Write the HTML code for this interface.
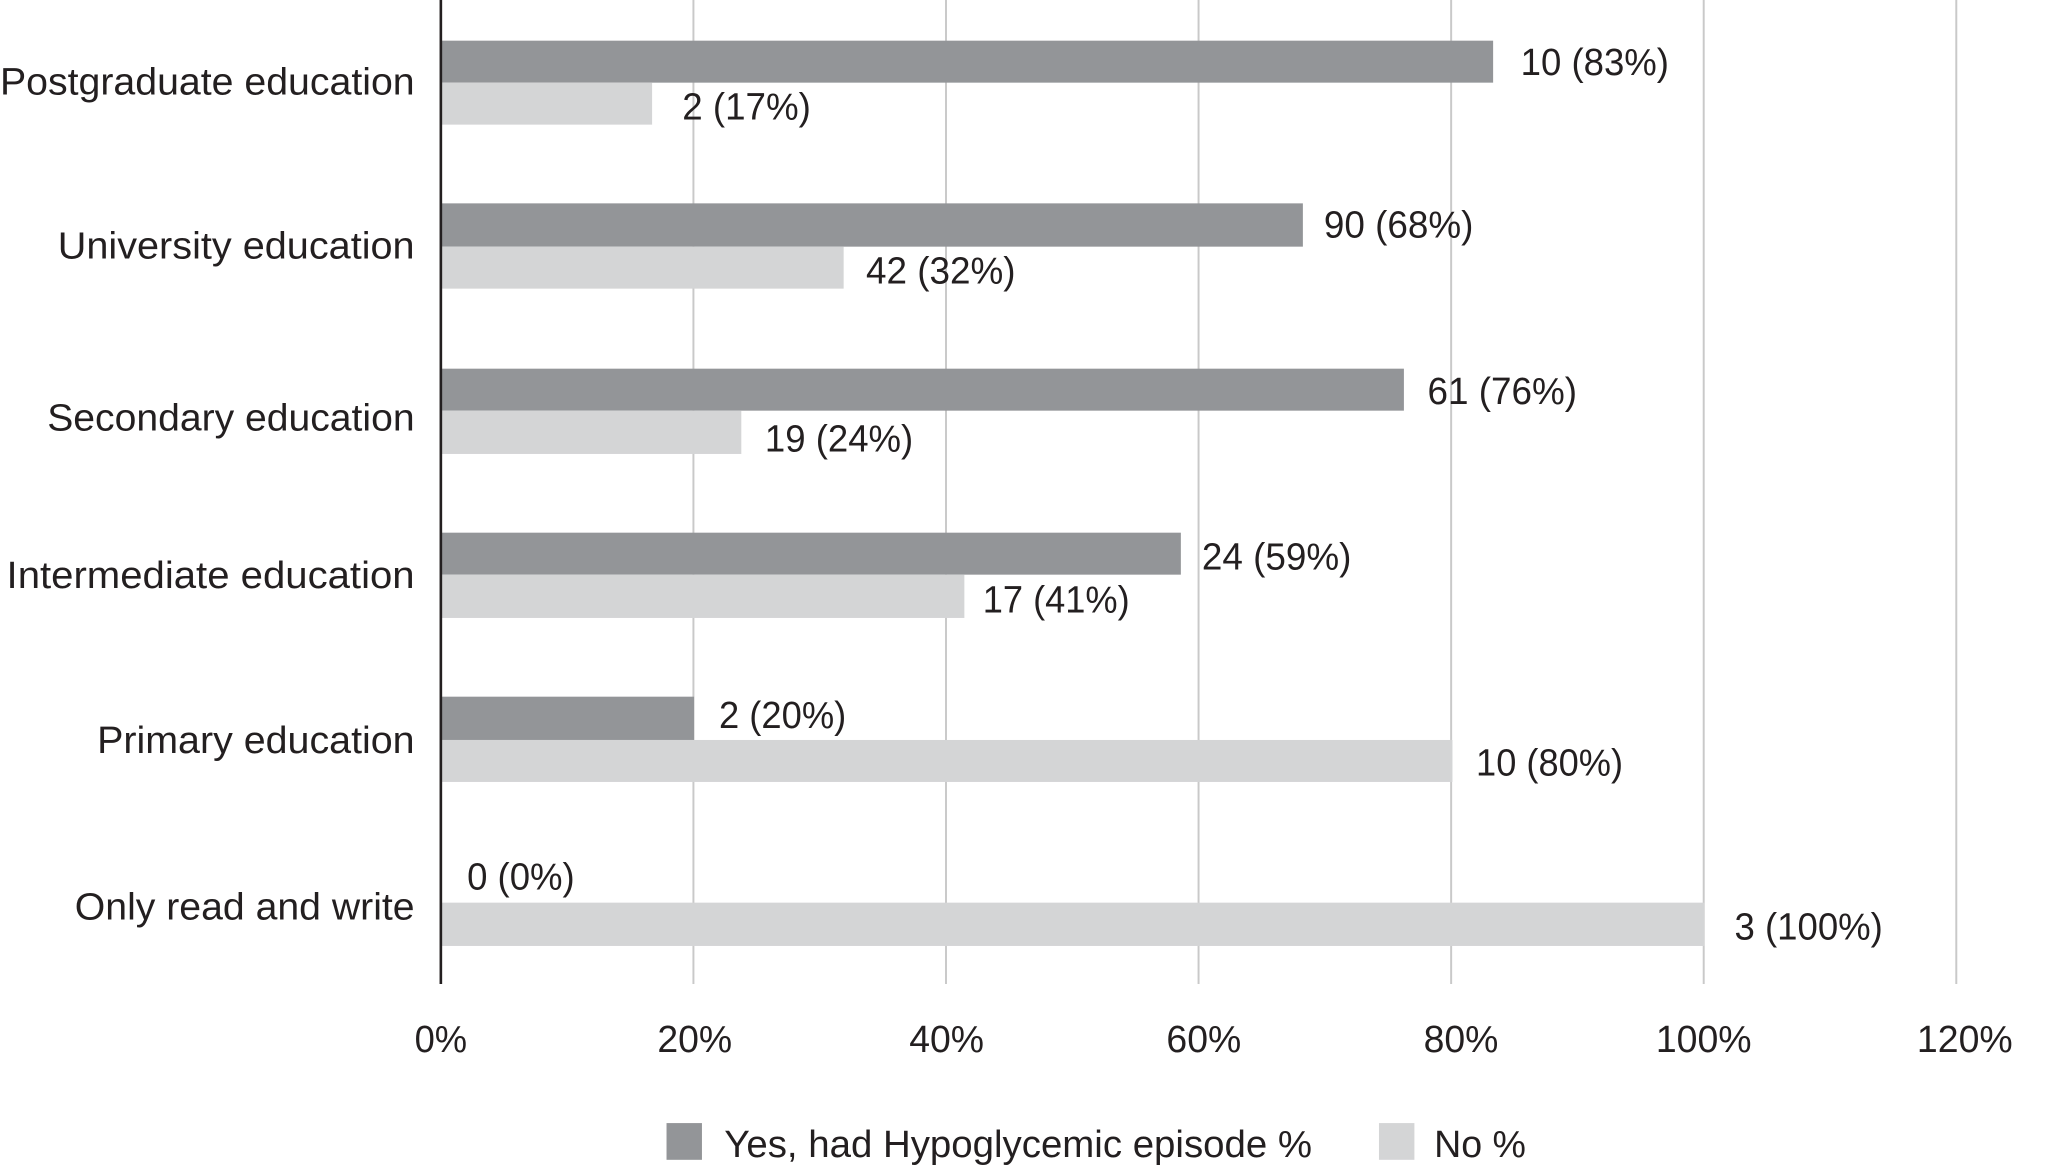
<!DOCTYPE html>
<html><head><meta charset="utf-8"><style>html,body{margin:0;padding:0;background:#fff}svg{display:block}</style></head><body>
<svg width="2056" height="1169" viewBox="0 0 1567 891" preserveAspectRatio="none" xmlns="http://www.w3.org/2000/svg" font-family="Liberation Sans, sans-serif" font-size="29" fill="#231f20">
<g stroke="#c9c9c9" stroke-width="1.5">
<line x1="528.5" y1="0" x2="528.5" y2="750"/><line x1="721" y1="0" x2="721" y2="750"/><line x1="913.5" y1="0" x2="913.5" y2="750"/><line x1="1106" y1="0" x2="1106" y2="750"/><line x1="1298.5" y1="0" x2="1298.5" y2="750"/><line x1="1491" y1="0" x2="1491" y2="750"/>
</g>
<g fill="#939598">
<rect x="336" y="31" width="802" height="32"/>
<rect x="336" y="155" width="657" height="33"/>
<rect x="336" y="281" width="734" height="32"/>
<rect x="336" y="406" width="564" height="32"/>
<rect x="336" y="531" width="193" height="33"/>
</g>
<g fill="#d4d5d6">
<rect x="336" y="63" width="161" height="32"/>
<rect x="336" y="188" width="307" height="32"/>
<rect x="336" y="313" width="229" height="33"/>
<rect x="336" y="438" width="399" height="33"/>
<rect x="336" y="564" width="771" height="32"/>
<rect x="336" y="688" width="963" height="33"/>
</g>
<line x1="336" y1="0" x2="336" y2="750" stroke="#231f20" stroke-width="2"/>
<g text-anchor="end" lengthAdjust="spacingAndGlyphs">
<text x="316" y="72" textLength="316" lengthAdjust="spacingAndGlyphs">Postgraduate education</text>
<text x="316" y="197" textLength="272" lengthAdjust="spacingAndGlyphs">University education</text>
<text x="316" y="328" textLength="280" lengthAdjust="spacingAndGlyphs">Secondary education</text>
<text x="316" y="448" textLength="311" lengthAdjust="spacingAndGlyphs">Intermediate education</text>
<text x="316" y="574" textLength="242" lengthAdjust="spacingAndGlyphs">Primary education</text>
<text x="316" y="701" textLength="259" lengthAdjust="spacingAndGlyphs">Only read and write</text>
</g>
<g>
<text x="1159" y="57" textLength="113" lengthAdjust="spacingAndGlyphs">10 (83%)</text>
<text x="520" y="91" textLength="98" lengthAdjust="spacingAndGlyphs">2 (17%)</text>
<text x="1009" y="181" textLength="114" lengthAdjust="spacingAndGlyphs">90 (68%)</text>
<text x="660" y="216" textLength="114" lengthAdjust="spacingAndGlyphs">42 (32%)</text>
<text x="1088" y="308" textLength="114" lengthAdjust="spacingAndGlyphs">61 (76%)</text>
<text x="583" y="344" textLength="113" lengthAdjust="spacingAndGlyphs">19 (24%)</text>
<text x="916" y="434" textLength="114" lengthAdjust="spacingAndGlyphs">24 (59%)</text>
<text x="749" y="467" textLength="112" lengthAdjust="spacingAndGlyphs">17 (41%)</text>
<text x="548" y="555" textLength="97" lengthAdjust="spacingAndGlyphs">2 (20%)</text>
<text x="1125" y="591" textLength="112" lengthAdjust="spacingAndGlyphs">10 (80%)</text>
<text x="356" y="678" textLength="82" lengthAdjust="spacingAndGlyphs">0 (0%)</text>
<text x="1322" y="716" textLength="113" lengthAdjust="spacingAndGlyphs">3 (100%)</text>
</g>
<g>
<text x="316" y="802" textLength="40" lengthAdjust="spacingAndGlyphs">0%</text>
<text x="501" y="802" textLength="57" lengthAdjust="spacingAndGlyphs">20%</text>
<text x="693" y="802" textLength="57" lengthAdjust="spacingAndGlyphs">40%</text>
<text x="889" y="802" textLength="57" lengthAdjust="spacingAndGlyphs">60%</text>
<text x="1085" y="802" textLength="57" lengthAdjust="spacingAndGlyphs">80%</text>
<text x="1262" y="802" textLength="73" lengthAdjust="spacingAndGlyphs">100%</text>
<text x="1461" y="802" textLength="73" lengthAdjust="spacingAndGlyphs">120%</text>
</g>
<rect x="508" y="856" width="27" height="28" fill="#939598"/>
<text x="552" y="882" textLength="448" lengthAdjust="spacingAndGlyphs">Yes, had Hypoglycemic episode %</text>
<rect x="1051" y="856" width="27" height="28" fill="#d4d5d6"/>
<text x="1093" y="882" textLength="70" lengthAdjust="spacingAndGlyphs">No %</text>
</svg>
</body></html>
